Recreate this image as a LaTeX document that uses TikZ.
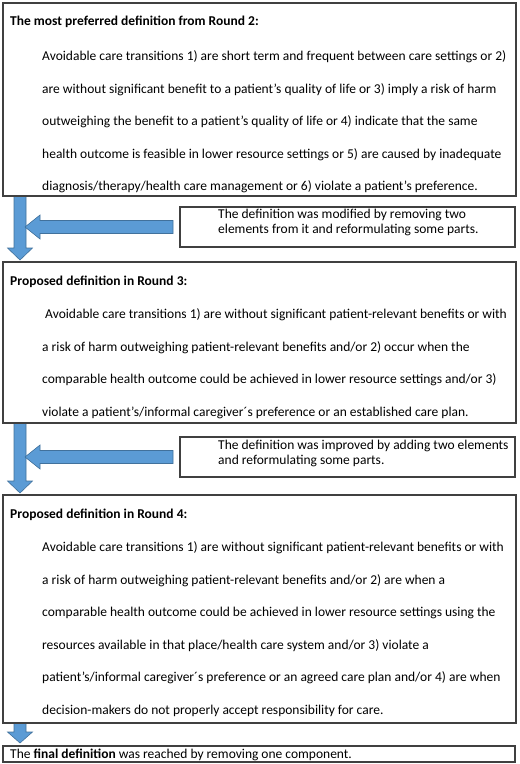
\documentclass[tikz,border=0pt]{standalone}
\usepackage{fontspec}
\setmainfont{Carlito}
\usetikzlibrary{calc}
\definecolor{arrowfill}{HTML}{5B9BD5}
\definecolor{arrowline}{HTML}{41719C}
\definecolor{boxline}{HTML}{404040}
\pgfdeclarelayer{background}
\pgfsetlayers{background,main}
\begin{document}
\begin{tikzpicture}[x=1pt,y=-1pt,
  box/.style={draw=boxline,line width=1.1pt,inner sep=0pt,outer sep=0pt,anchor=north west},
  body/.style={inner sep=0pt,anchor=north west,align=left,font=\fontsize{13.5}{32.6}\selectfont},
  headtxt/.style={inner sep=0pt,anchor=north west,font=\fontsize{13.5}{15}\selectfont\bfseries},
  notetxt/.style={inner sep=0pt,anchor=north west,align=left,font=\fontsize{13.5}{15.5}\selectfont},
  barrow/.style={fill=arrowfill,draw=arrowline,line width=0.6pt,line join=miter}]
\useasboundingbox (0,0) rectangle (520,764);

% boxes
\node[box,minimum width=513pt,minimum height=193pt] (b1) at (3,3) {};
\node[box,minimum width=513pt,minimum height=161pt] (b2) at (3,262) {};
\node[box,minimum width=513pt,minimum height=228pt] (b3) at (3,495) {};
\node[box,minimum width=512pt,minimum height=16pt] (b4) at (3,746) {};
\node[box,minimum width=335pt,minimum height=40pt] (s1) at (180,207) {};
\node[box,minimum width=335pt,minimum height=40pt] (s2) at (180,437) {};

% texts
\node[headtxt] (h1) at (10,15.5) {The most preferred definition from Round 2:};
\node[body] (t1) at (42,50.5) {Avoidable care transitions 1) are short term and frequent between care settings or 2)\\
are without significant benefit to a patient’s quality of life or 3) imply a risk of harm\\
outweighing the benefit to a patient’s quality of life or 4) indicate that the same\\
health outcome is feasible in lower resource settings or 5) are caused by inadequate\\
diagnosis/therapy/health care management or 6) violate a patient’s preference.};

\node[headtxt] (h2) at (10,275.5) {Proposed definition in Round 3:};
\node[body] (t2) at (42,308.5) {\hspace*{3pt}Avoidable care transitions 1) are without significant patient-relevant benefits or with\\
a risk of harm outweighing patient-relevant benefits and/or 2) occur when the\\
comparable health outcome could be achieved in lower resource settings and/or 3)\\
violate a patient’s/informal caregiver´s preference or an established care plan.};

\node[headtxt] (h3) at (10,508.5) {Proposed definition in Round 4:};
\node[body] (t3) at (42,541.5) {Avoidable care transitions 1) are without significant patient-relevant benefits or with\\
a risk of harm outweighing patient-relevant benefits and/or 2) are when a\\
comparable health outcome could be achieved in lower resource settings using the\\
resources available in that place/health care system and/or 3) violate a\\
patient’s/informal caregiver´s preference or an agreed care plan and/or 4) are when\\
decision-makers do not properly accept responsibility for care.};

\node[notetxt] (n1) at (218,208.5) {The definition was modified by removing two\\
elements from it and reformulating some parts.};
\node[notetxt] (n2) at (218,439.5) {The definition was improved by adding two elements\\
and reformulating some parts.};

\node[inner sep=0pt,anchor=north west,font=\fontsize{13.5}{15}\selectfont] (f) at (10,748.8)
  {The \textbf{final definition} was reached by removing one component.};

% connector coordinates
\coordinate (v1a) at ($(b1.south west)+(17,0)$);
\coordinate (v1b) at ($(b2.north west)+(17,-2)$);
\coordinate (v2a) at ($(b2.south west)+(17,0)$);
\coordinate (v2b) at ($(b3.north west)+(17,-2)$);
\coordinate (v3a) at ($(b3.south west)+(17,0)$);
\coordinate (v3b) at ($(b4.north west)+(17,-3)$);
\coordinate (h1a) at ($(s1.west)+(-7,0)$);
\coordinate (h1b) at ($(s1.west -| v1a)+(5,0)$);
\coordinate (h2a) at ($(s2.west)+(-7,0)$);
\coordinate (h2b) at ($(s2.west -| v2a)+(5,0)$);

\begin{pgfonlayer}{background}
% vertical block arrows
\draw[barrow] let \p1=(v1a),\p2=(v1b) in
  (\x1-6pt,\y1) -- (\x1-6pt,\y2+12pt) -- (\x1-12.5pt,\y2+12pt) -- (\x2,\y2)
  -- (\x1+12.5pt,\y2+12pt) -- (\x1+6pt,\y2+12pt) -- (\x1+6pt,\y1) -- cycle;
\draw[barrow] let \p1=(v2a),\p2=(v2b) in
  (\x1-6pt,\y1) -- (\x1-6pt,\y2+12pt) -- (\x1-12.5pt,\y2+12pt) -- (\x2,\y2)
  -- (\x1+12.5pt,\y2+12pt) -- (\x1+6pt,\y2+12pt) -- (\x1+6pt,\y1) -- cycle;
\draw[barrow] let \p1=(v3a),\p2=(v3b) in
  (\x1-6pt,\y1) -- (\x1-6pt,\y2+11pt) -- (\x1-12.5pt,\y2+11pt) -- (\x2,\y2)
  -- (\x1+12.5pt,\y2+11pt) -- (\x1+6pt,\y2+11pt) -- (\x1+6pt,\y1) -- cycle;
% horizontal block arrows
\draw[barrow] let \p1=(h1a),\p2=(h1b) in
  (\x1,\y1+6.5pt) -- (\x2+15pt,\y1+6.5pt) -- (\x2+15pt,\y1+12pt) -- (\x2,\y2)
  -- (\x2+15pt,\y1-12pt) -- (\x2+15pt,\y1-6.5pt) -- (\x1,\y1-6.5pt) -- cycle;
\draw[barrow] let \p1=(h2a),\p2=(h2b) in
  (\x1,\y1+6.5pt) -- (\x2+15pt,\y1+6.5pt) -- (\x2+15pt,\y1+12pt) -- (\x2,\y2)
  -- (\x2+15pt,\y1-12pt) -- (\x2+15pt,\y1-6.5pt) -- (\x1,\y1-6.5pt) -- cycle;
\end{pgfonlayer}
\end{tikzpicture}
\end{document}
